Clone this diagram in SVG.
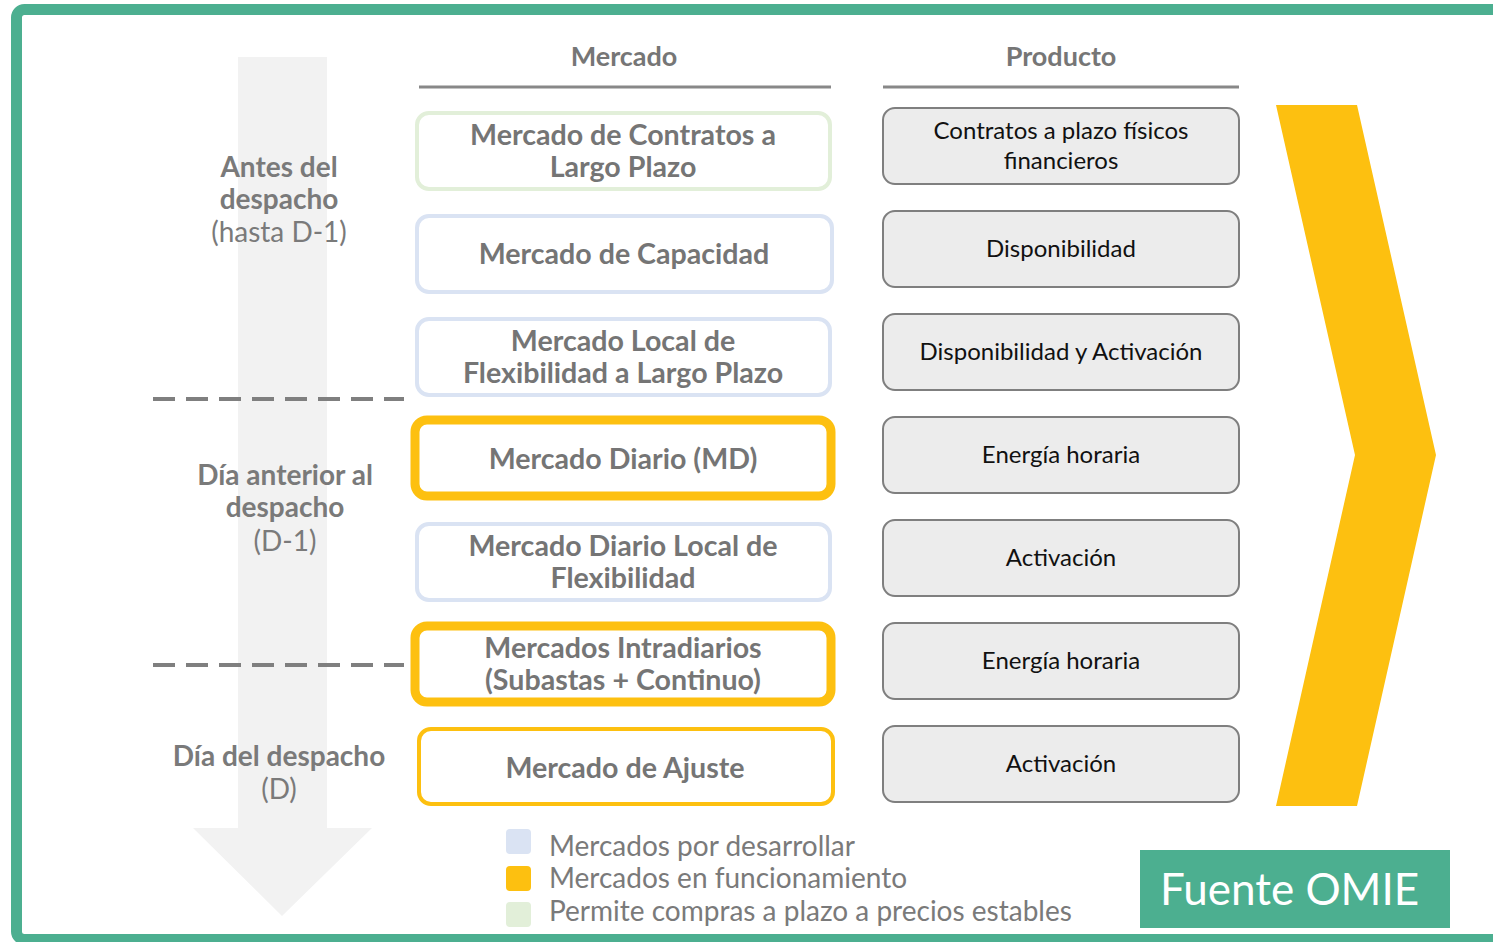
<svg xmlns="http://www.w3.org/2000/svg" width="1493" height="942" viewBox="0 0 1493 942">
<style>
.hdr{font-family:Lato,"Open Sans",sans-serif;font-weight:bold;font-size:27px;fill:#767676;text-anchor:middle}
.mk{font-family:Lato,"Open Sans",sans-serif;font-weight:bold;font-size:28.6px;fill:#757575;text-anchor:middle}
.side{font-family:Lato,"Open Sans",sans-serif;font-size:28px;fill:#7a7a7a;text-anchor:middle}
.sb{font-weight:bold}
.pr{font-family:Lato,"Open Sans",sans-serif;font-size:24px;fill:#111;text-anchor:middle}
.leg{font-family:Lato,"Open Sans",sans-serif;font-size:28px;fill:#7a7a7a}
.box{fill:#fff;stroke-width:4}
.blue{stroke:#dae3f3}
.green{stroke:#e2efd9}
.orange{stroke:#fdc010;stroke-width:9}
.pbox{fill:#ececec;stroke:#7f7f7f;stroke-width:2}
.dash{stroke:#7f7f7f;stroke-width:4;stroke-dasharray:22 11}
</style>
<rect x="0" y="0" width="1493" height="942" fill="#fff"/>
<rect x="16.5" y="9.5" width="1500" height="930" rx="8" fill="none" stroke="#4caf90" stroke-width="11"/>
<g id="timeline-arrow">
<polygon points="238,57 327,57 327,828 372,828 282,916 193,828 238,828" fill="#f2f2f2"/>
</g>
<g id="headers">
<text class="hdr" x="624" y="66">Mercado</text>
<text class="hdr" x="1061" y="66">Producto</text>
<line x1="419" y1="87" x2="831" y2="87" stroke="#888" stroke-width="3"/>
<line x1="883" y1="87" x2="1239" y2="87" stroke="#888" stroke-width="3"/>
</g>
<g id="phase-labels">
<text class="side" x="279" y="177"><tspan class="sb">Antes del</tspan><tspan class="sb" x="279" dy="32">despacho</tspan><tspan x="279" dy="33">(hasta D-1)</tspan></text>
<text class="side" x="285" y="485"><tspan class="sb">Día anterior al</tspan><tspan class="sb" x="285" dy="32">despacho</tspan><tspan x="285" dy="34">(D-1)</tspan></text>
<text class="side" x="279" y="766"><tspan class="sb">Día del despacho</tspan><tspan x="279" dy="33">(D)</tspan></text>
</g>
<g id="connectors">
<line class="dash" x1="153" y1="399" x2="404" y2="399"/>
<line class="dash" x1="153" y1="665" x2="404" y2="665"/>
</g>
<g id="m1"><rect class="box green" x="417" y="113" width="413" height="76" rx="12"/><text class="mk" x="623" y="145">Mercado de Contratos a<tspan x="623" dy="32">Largo Plazo</tspan></text></g>
<g id="m2"><rect class="box blue" x="417" y="216" width="415" height="76" rx="12"/><text class="mk" x="624" y="264">Mercado de Capacidad</text></g>
<g id="m3"><rect class="box blue" x="417" y="319" width="413" height="76" rx="12"/><text class="mk" x="623" y="351">Mercado Local de<tspan x="623" dy="32">Flexibilidad a Largo Plazo</tspan></text></g>
<g id="m4"><rect class="box orange" x="415" y="420" width="416" height="76" rx="12"/><text class="mk" x="623" y="469">Mercado Diario (MD)</text></g>
<g id="m5"><rect class="box blue" x="417" y="524" width="413" height="76" rx="12"/><text class="mk" x="623" y="556">Mercado Diario Local de<tspan x="623" dy="32">Flexibilidad</tspan></text></g>
<g id="m6"><rect class="box orange" x="415" y="626" width="416" height="76" rx="12"/><text class="mk" x="623" y="658">Mercados Intradiarios<tspan x="623" dy="32">(Subastas + Continuo)</tspan></text></g>
<g id="m7"><rect class="box" x="419" y="729" width="414" height="75" rx="12" stroke="#fdc010"/><text class="mk" x="625" y="778">Mercado de Ajuste</text></g>
<g id="p1"><rect class="pbox" x="883" y="108" width="356" height="76" rx="12"/><text class="pr" x="1061" y="139">Contratos a plazo físicos<tspan x="1061" dy="30">financieros</tspan></text></g>
<g id="p2"><rect class="pbox" x="883" y="211" width="356" height="76" rx="12"/><text class="pr" x="1061" y="257">Disponibilidad</text></g>
<g id="p3"><rect class="pbox" x="883" y="314" width="356" height="76" rx="12"/><text class="pr" x="1061" y="360">Disponibilidad y Activación</text></g>
<g id="p4"><rect class="pbox" x="883" y="417" width="356" height="76" rx="12"/><text class="pr" x="1061" y="463">Energía horaria</text></g>
<g id="p5"><rect class="pbox" x="883" y="520" width="356" height="76" rx="12"/><text class="pr" x="1061" y="566">Activación</text></g>
<g id="p6"><rect class="pbox" x="883" y="623" width="356" height="76" rx="12"/><text class="pr" x="1061" y="669">Energía horaria</text></g>
<g id="p7"><rect class="pbox" x="883" y="726" width="356" height="76" rx="12"/><text class="pr" x="1061" y="772">Activación</text></g>
<g id="chevron"><polygon points="1276,105 1357,105 1436,455 1357,806 1276,806 1355,455" fill="#fdc010"/></g>
<g id="legend">
<rect x="506" y="829" width="25" height="25" rx="4" fill="#dae3f3"/>
<rect x="506" y="866" width="25" height="25" rx="4" fill="#fdc010"/>
<rect x="506" y="902" width="25" height="25" rx="4" fill="#e2efd9"/>
<text class="leg" x="549" y="856">Mercados por desarrollar</text>
<text class="leg" x="549" y="888">Mercados en funcionamiento</text>
<text class="leg" x="549" y="921">Permite compras a plazo a precios estables</text>
</g>
<g id="source">
<rect x="1140" y="850" width="310" height="78" fill="#4caf90"/>
<text x="1160" y="905" font-family="Lato,'Open Sans',sans-serif" font-size="44" fill="#fff">Fuente OMIE</text>
</g>
</svg>
